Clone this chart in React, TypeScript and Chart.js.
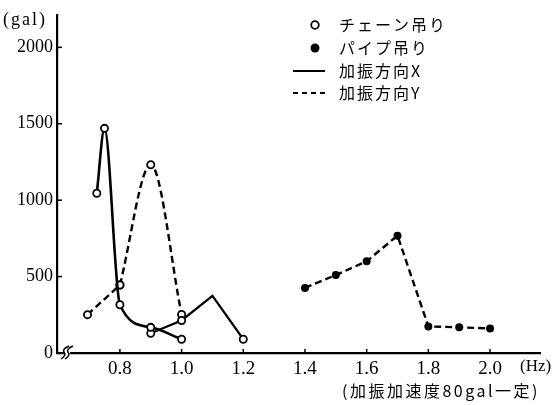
import React, { useEffect, useRef } from "react";
import { Chart, registerables } from "chart.js";
Chart.register(...registerables);

// Chain-hung, X direction (solid, open circles)
const chainXHz = [0.725, 0.75, 0.8, 0.9, 1.0];
const chainXGal = [1045, 1470, 316, 168, 90];
// second X-direction curve (solid)
const chainX2Hz = [0.9, 1.0, 1.1, 1.2];
const chainX2Gal = [129, 213, 374, 90];
const chainX2Marker = [true, true, false, true];
// Chain-hung, Y direction (dashed, open circles): straight start, curved rest
const chainYStartHz = [0.695, 0.8];
const chainYStartGal = [251, 445];
const chainYHz = [0.8, 0.9, 1.0];
const chainYGal = [445, 1232, 252];
// Pipe-hung, Y direction (dashed, filled dots)
const pipeYHz = [1.4, 1.5, 1.6, 1.7, 1.8, 1.9, 2.0];
const pipeYGal = [426, 510, 600, 768, 174, 168, 161];

const xTicks = [0.8, 1.0, 1.2, 1.4, 1.6, 1.8, 2.0];
const yTicks = [0, 500, 1000, 1500, 2000];
const legendLabels = ["チェーン吊り", "パイプ吊り", "加振方向X", "加振方向Y"];
const yUnit = "(gal)";
const xUnit = "(Hz)";
const note = "(加振加速度80gal一定)";

const SERIF = "'Liberation Serif', 'DejaVu Serif', serif";
const CJK = "'Noto Sans CJK JP', sans-serif";

const pts = (xs: number[], ys: number[]) => xs.map((x, i) => ({ x, y: ys[i] }));

const decor = {
  id: "decor",
  afterDraw(chart: any) {
    const ctx = chart.ctx as CanvasRenderingContext2D;
    const xs = chart.scales.x;
    const ys = chart.scales.y;
    const ca = chart.chartArea;
    ctx.save();
    ctx.strokeStyle = "#000";
    ctx.fillStyle = "#000";
    ctx.lineWidth = 1.5;
    // inward ticks
    xTicks.forEach((v) => {
      const px = xs.getPixelForValue(v);
      ctx.beginPath();
      ctx.moveTo(px, ca.bottom);
      ctx.lineTo(px, ca.bottom - 4);
      ctx.stroke();
    });
    yTicks.forEach((v) => {
      const py = ys.getPixelForValue(v);
      ctx.beginPath();
      ctx.moveTo(ca.left, py);
      ctx.lineTo(ca.left + 5, py);
      ctx.stroke();
    });
    // axis break mark
    const bx = ca.left + 10;
    const by = ca.bottom;
    ctx.fillStyle = "#fff";
    ctx.fillRect(bx - 3, by - 3, 6, 6);
    ctx.strokeStyle = "#000";
    ctx.lineWidth = 1.5;
    [-2, 2].forEach((d) => {
      ctx.beginPath();
      ctx.moveTo(bx + d - 4, by + 6);
      ctx.quadraticCurveTo(bx + d + 2, by + 2, bx + d - 1, by - 1);
      ctx.quadraticCurveTo(bx + d - 3, by - 4, bx + d + 4, by - 7);
      ctx.stroke();
    });
    // unit labels
    ctx.fillStyle = "#000";
    ctx.textBaseline = "middle";
    ctx.textAlign = "left";
    ctx.font = `18px ${SERIF}`;
    (ctx as any).letterSpacing = "2px";
    ctx.fillText(yUnit, 3, 20);
    (ctx as any).letterSpacing = "0px";
    ctx.font = `17px ${SERIF}`;
    ctx.fillText(xUnit, 520, 367);
    ctx.font = `16px ${CJK}`;
    (ctx as any).letterSpacing = "2.5px";
    ctx.fillText(note, 342, 391);
    // legend
    const lx = 315;
    const tx = 339;
    const rows = [25, 48, 71, 93];
    ctx.font = `16px ${CJK}`;
    (ctx as any).letterSpacing = "2px";
    legendLabels.forEach((t, i) => ctx.fillText(t, tx, rows[i]));
    (ctx as any).letterSpacing = "0px";
    ctx.strokeStyle = "#000";
    ctx.lineWidth = 1.8;
    ctx.beginPath();
    ctx.arc(lx, rows[0], 3.8, 0, Math.PI * 2);
    ctx.stroke();
    ctx.fillStyle = "#000";
    ctx.beginPath();
    ctx.arc(lx, rows[1], 4.5, 0, Math.PI * 2);
    ctx.fill();
    ctx.lineWidth = 2;
    ctx.beginPath();
    ctx.moveTo(293, rows[2]);
    ctx.lineTo(325, rows[2]);
    ctx.stroke();
    ctx.setLineDash([5, 4]);
    ctx.beginPath();
    ctx.moveTo(293, rows[3]);
    ctx.lineTo(325, rows[3]);
    ctx.stroke();
    ctx.restore();
  },
};

export default function App() {
  const ref = useRef<HTMLCanvasElement | null>(null);
  useEffect(() => {
    if (!ref.current) return;
    const open = {
      pointStyle: "circle",
      pointBackgroundColor: "#fff",
      pointBorderColor: "#000",
      pointBorderWidth: 1.8,
      pointRadius: 3.6,
    };
    const chart = new Chart(ref.current, {
      type: "line",
      data: {
        datasets: [
          {
            label: "chainX",
            data: pts(chainXHz, chainXGal),
            borderColor: "#000",
            borderWidth: 2.6,
            cubicInterpolationMode: "monotone",
            ...open,
          },
          {
            label: "chainX2",
            data: pts(chainX2Hz, chainX2Gal),
            borderColor: "#000",
            borderWidth: 2.2,
            tension: 0,
            ...open,
            pointRadius: chainX2Marker.map((m) => (m ? 3.6 : 0)),
          },
          {
            label: "chainYStart",
            data: pts(chainYStartHz, chainYStartGal),
            borderColor: "#000",
            borderWidth: 2.4,
            borderDash: [7, 4],
            tension: 0,
            ...open,
          },
          {
            label: "chainY",
            data: pts(chainYHz, chainYGal),
            borderColor: "#000",
            borderWidth: 2.4,
            borderDash: [7, 4],
            cubicInterpolationMode: "monotone",
            ...open,
          },
          {
            label: "pipeY",
            data: pts(pipeYHz, pipeYGal),
            borderColor: "#000",
            borderWidth: 2.4,
            borderDash: [7, 4],
            tension: 0,
            pointBackgroundColor: "#000",
            pointBorderColor: "#000",
            pointRadius: 2.8,
          },
        ] as any,
      },
      options: {
        responsive: false,
        animation: false,
        layout: { padding: { top: 10, right: 12, left: 0, bottom: 0 } },
        plugins: { legend: { display: false }, tooltip: { enabled: false } },
        scales: {
          x: {
            type: "linear",
            min: 0.596,
            max: 2.162,
            grid: { display: false, drawTicks: false },
            border: { display: true, color: "#000", width: 2.2 },
            afterBuildTicks: (s: any) => {
              s.ticks = xTicks.map((v) => ({ value: v }));
            },
            afterFit: (s: any) => {
              s.height = 52;
            },
            ticks: {
              color: "#000",
              padding: 5,
              maxRotation: 0,
              font: { family: SERIF, size: 19 },
              callback: (v: any) => Number(v).toFixed(1),
            },
          },
          y: {
            type: "linear",
            min: 0,
            max: 2213,
            grid: { display: false, drawTicks: false },
            border: { display: true, color: "#000", width: 2.2 },
            afterBuildTicks: (s: any) => {
              s.ticks = yTicks.map((v) => ({ value: v }));
            },
            afterFit: (s: any) => {
              s.width = 57;
            },
            ticks: {
              color: "#000",
              padding: 4,
              font: { family: SERIF, size: 18 },
              callback: (v: any) => String(v),
            },
          },
        },
      } as any,
      plugins: [decor],
    });
    return () => chart.destroy();
  }, []);
  return (
    <div style={{ position: "fixed", left: 0, top: 0, width: 552, height: 405, background: "#fff" }}>
      <canvas ref={ref} width={552} height={405} style={{ display: "block" }} />
    </div>
  );
}
